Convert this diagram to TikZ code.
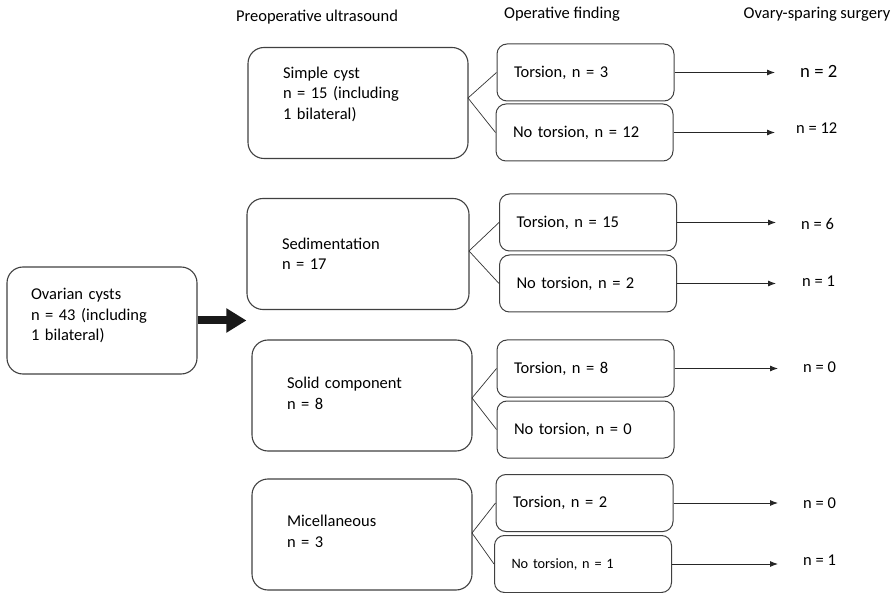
\documentclass[tikz,border=0pt]{standalone}
\usepackage{fontspec}
\setmainfont{Carlito}
\usetikzlibrary{arrows.meta}

\begin{document}
\begin{tikzpicture}[x=1pt,y=-1pt,font=\fontsize{16.5}{20.5}\selectfont,
  bigbox/.style={draw=black!75,line width=1.1pt,rounded corners=16pt,align=left,
    minimum height=111pt,inner xsep=35pt,inner ysep=0pt,text width=150pt},
  findbox/.style={draw=black!75,line width=1pt,rounded corners=10pt,align=left,
    minimum height=57pt,inner xsep=17pt,inner ysep=0pt,text width=143pt},
  result/.style={anchor=west,inner sep=0pt},
  arr/.style={-{Latex[length=8pt,width=6pt]},line width=0.9pt,black!85,shorten >=25pt},
  branch/.style={line width=0.7pt,black!80}]
  \useasboundingbox (0,0) rectangle (894,593);

  % column heads
  \node (hdrPre) at (317,17) {Preoperative ultrasound};
  \node (hdrOp) at (562,14) {Operative finding};
  \node (hdrOvary) at (817,14) {Ovary-sparing surgery};

  % all cysts and the ultrasound groups
  \node[bigbox,minimum height=107pt,inner xsep=24pt,text width=142pt,text depth=53pt]
    (ovary) at (102,320.5) {Ovarian cysts\\n = 43 (including\\1 bilateral)};
  \node[bigbox,text depth=61pt] (simple) at (358,103)
    {Simple cyst\\n = 15 (including\\1 bilateral)};
  \node[bigbox,minimum width=222pt,text width=152pt] (sedim) at (358,254)
    {Sedimentation\\n = 17};
  \node[bigbox,text depth=25pt] (solid) at (362,395.5) {Solid component\\n = 8};
  \node[bigbox,text depth=27pt] (misc) at (362,534.5) {Micellaneous\\n = 3};

  \draw[line width=8pt,black!90,-{Triangle[length=20pt,width=23pt]}]
    (ovary.east) -- (ovary.east -| sedim.west);

  % operative findings
  \node[findbox] (tors1) at (585.5,72.5) {Torsion, n = 3};
  \node[findbox] (notors1) at (584.5,132.5) {No torsion, n = 12};
  \node[findbox] (tors2) at (588,222.5) {Torsion, n = 15};
  \node[findbox] (notors2) at (588,283.5) {No torsion, n = 2};
  \node[findbox] (tors3) at (585.5,368.5) {Torsion, n = 8};
  \node[findbox] (notors3) at (585.5,429.5) {No torsion, n = 0};
  \node[findbox] (tors4) at (584.5,503) {Torsion, n = 2};
  \node[findbox,font=\fontsize{14.3}{17}\selectfont] (notors4) at (583,564)
    {No torsion, n = 1};

  \coordinate (jSimple) at (468,98);
  \coordinate (jSedim) at (469,251);
  \coordinate (jSolid) at (472,398);
  \coordinate (jMisc) at (472,533);
  \draw[branch] (tors1.west) -- (jSimple) -- (notors1.west);
  \draw[branch] (tors2.west) -- (jSedim) -- (notors2.west);
  \draw[branch] (tors3.west) -- (jSolid) -- (notors3.west);
  \draw[branch] (tors4.west) -- (jMisc) -- (notors4.west);

  % ovary-sparing surgery
  \node[result,font=\fontsize{18.7}{22}\selectfont] (spare1) at (800,71) {n = 2};
  \node[result] (spare2) at (796,128) {n = 12};
  \node[result] (spare3) at (801,224) {n = 6};
  \node[result] (spare4) at (802,281) {n = 1};
  \node[result] (spare5) at (803,367) {n = 0};
  \node[result] (spare6) at (803,503) {n = 0};
  \node[result] (spare7) at (803,560) {n = 1};

  \draw[arr] (tors1.east) -- (tors1.east -| spare1.west);
  \draw[arr] (notors1.east) -- (notors1.east -| spare1.west);
  \draw[arr] (tors2.east) -- (tors2.east -| spare3.west);
  \draw[arr] (notors2.east) -- (notors2.east -| spare3.west);
  \draw[arr] (tors3.east) -- (tors3.east -| spare5.west);
  \draw[arr] (tors4.east) -- (tors4.east -| spare6.west);
  \draw[arr] (notors4.east) -- (notors4.east -| spare6.west);
\end{tikzpicture}
\end{document}
